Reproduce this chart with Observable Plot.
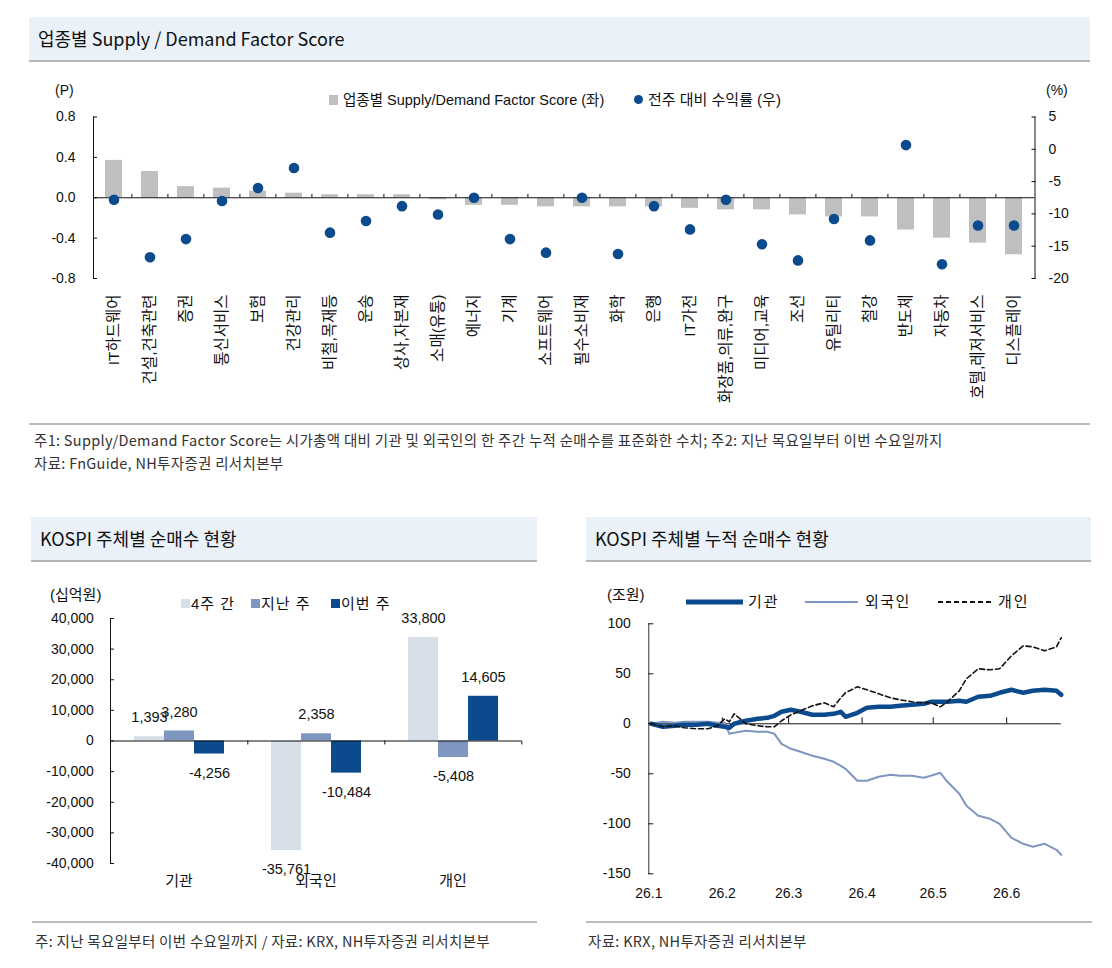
<!DOCTYPE html>
<html><head><meta charset="utf-8">
<script src="https://cdn.jsdelivr.net/npm/d3@7"></script>
<script src="https://cdn.jsdelivr.net/npm/@observablehq/plot@0.6"></script>
<style>
body{margin:0;background:#fff;}
#page{position:relative;width:1112px;height:968px;overflow:hidden;font-family:"Liberation Sans","Noto Sans CJK KR",sans-serif;color:#111;}
.abs{position:absolute;white-space:nowrap;}
.tbar{position:absolute;height:45px;background:#eaf1f8;border-bottom:2px solid #b5b5b5;box-sizing:border-box;font-family:"Noto Sans CJK KR",sans-serif;font-size:18px;line-height:43px;padding-left:9px;color:#111;}
.sep{position:absolute;height:0;border-top:3px solid #bdbdbd;}
.note{position:absolute;font-family:"Noto Sans CJK KR",sans-serif;font-size:14.5px;letter-spacing:0.3px;color:#333;white-space:nowrap;line-height:18px;}
.chart{position:absolute;}
</style></head>
<body><div id="page"></div>
<script>
// ---------- data ----------
const sectors = ["IT하드웨어","건설,건축관련","증권","통신서비스","보험","건강관리","비철,목재등","운송","상사,자본재","소매(유통)","에너지","기계","소프트웨어","필수소비재","화학","은행","IT가전","화장품,의류,완구","미디어,교육","조선","유틸리티","철강","반도체","자동차","호텔,레저서비스","디스플레이"];
const sdScore = [0.37,0.26,0.11,0.095,0.065,0.045,0.03,0.03,0.03,-0.02,-0.075,-0.075,-0.09,-0.09,-0.09,-0.09,-0.105,-0.12,-0.12,-0.17,-0.19,-0.19,-0.32,-0.40,-0.45,-0.565];
const weeklyReturn = [-7.8,-16.7,-13.9,-8.0,-6.0,-2.9,-12.9,-11.1,-8.8,-10.1,-7.5,-13.9,-16.0,-7.5,-16.2,-8.8,-12.4,-7.8,-14.7,-17.2,-10.8,-14.1,0.65,-17.8,-11.8,-11.8];
const scoreTicks = [0.8,0.4,0,-0.4,-0.8];
const returnTicks = [5,0,-5,-10,-15,-20];

const investors = ["기관","외국인","개인"];
const periods = ["4주 간","지난 주","이번 주"];
const net4w = [1393,-35761,33800];
const netLast = [3280,2358,-5408];
const netThis = [-4256,-10484,14605];
const netTicks = [40000,30000,20000,10000,0,-10000,-20000,-30000,-40000];

const cumDates = ["2026-01-02","2026-01-07","2026-01-12","2026-01-16","2026-01-21","2026-01-26","2026-01-30","2026-02-02","2026-02-04","2026-02-06","2026-02-11","2026-02-16","2026-02-20","2026-02-23","2026-02-26","2026-03-02","2026-03-06","2026-03-11","2026-03-16","2026-03-20","2026-03-23","2026-03-25","2026-03-30","2026-04-03","2026-04-08","2026-04-13","2026-04-17","2026-04-22","2026-04-27","2026-04-30","2026-05-04","2026-05-07","2026-05-12","2026-05-15","2026-05-20","2026-05-25","2026-05-29","2026-06-03","2026-06-08","2026-06-12","2026-06-17","2026-06-22","2026-06-24"];
const cumInst = [0,-3,-2,-1,-1,0,-2,-3,-4,0,3,5,6,8,12,14,12,9,9,10,12,7,11,16,17,17,18,19,20,22,22,22,23,22,27,28,31,34,31,33,34,33,29];
const cumForeign = [0,2,1,2,2,2,1,1,-10,-9,-7,-8,-8,-10,-20,-25,-28,-32,-35,-38,-42,-45,-57,-57,-53,-51,-52,-52,-54,-52,-49,-58,-70,-82,-92,-95,-100,-114,-120,-123,-120,-126,-131];
const cumIndiv = [0,-3,-2,-4,-5,-5,-2,5,2,10,0,-2,-3,-3,3,9,13,18,21,17,26,31,37,34,30,26,24,22,21,21,17,22,33,45,55,54,55,68,78,77,73,77,86];
const cumTicks = [100,50,0,-50,-100,-150];
const monthTicks = ["2026-01-01","2026-02-01","2026-03-01","2026-04-01","2026-05-01","2026-06-01"];

// ---------- helpers ----------
const page = document.getElementById("page");
const NAVY = "#0b4a8c", STEEL = "#7f97c0", PALE = "#d6dee8", GREY = "#bfbfbf";
function el(tag, cls, css, html){ const e=document.createElement(tag); if(cls) e.className=cls; Object.assign(e.style, css||{}); if(html!==undefined) e.innerHTML=html; page.appendChild(e); return e; }
function label(text, x, yc, size, extra){ const lh=Math.round(size*1.3); return el("div","abs",Object.assign({left:x+"px",top:(yc-lh/2)+"px",fontSize:size+"px",lineHeight:lh+"px"},extra||{}),text); }
function place(node, x, y){ node.classList.add("chart"); node.style.left=x+"px"; node.style.top=y+"px"; page.appendChild(node); }
const font = '"Liberation Sans","Noto Sans CJK KR",sans-serif';

// ---------- panel 1 ----------
el("div","tbar",{left:"29px",top:"17px",width:"1061px"},"업종별 Supply / Demand Factor Score");
label("(P)",55,90,14);
label("(%)",1046,90,14);
el("div","abs",{left:"329px",top:"95px",width:"9px",height:"10px",background:GREY});
label("업종별 Supply/Demand Factor Score (좌)",343,100,14.5);
el("div","abs",{left:"633.5px",top:"95px",width:"9px",height:"9px",borderRadius:"50%",background:NAVY});
label("전주 대비 수익률 (우)",648,100,15);

const rmap = d3.scaleLinear().domain([-20,5]).range([-0.8,0.8]);
const t1 = sectors.map((s,i)=>({s, v:sdScore[i], r:weeklyReturn[i]}));
const p1 = Plot.plot({
  width:1112, height:340, marginLeft:93, marginRight:77.5, marginTop:46.5, marginBottom:132,
  style:{fontFamily:font, fontSize:"14px", color:"#111", background:"transparent", overflow:"visible"},
  x:{domain:sectors, paddingInner:0.533, paddingOuter:0.2665},
  y:{domain:[-0.8,0.8]},
  marks:[
    Plot.barY(t1,{x:"s", y:"v", fill:GREY}),
    Plot.ruleY([0],{stroke:"#111"}),
    Plot.ruleX(sectors.slice(1),{x:d=>d, y1:0, y2:0.033, dx:-18.1, stroke:"#111"}),
    Plot.dot(t1,{x:"s", y:d=>rmap(d.r), r:5.3, fill:NAVY}),
    Plot.frame({anchor:"left", stroke:"#111"}),
    Plot.frame({anchor:"right", stroke:"#111"}),
    Plot.axisY(scoreTicks,{anchor:"left", tickSize:-4, tickPadding:22, tickFormat:d=>d.toFixed(1), label:null}),
    Plot.axisY(returnTicks.map(rmap),{anchor:"right", tickSize:-4, tickPadding:17.5, tickFormat:d=>String(Math.round(rmap.invert(d))), label:null}),
    Plot.axisX({anchor:"bottom", tickSize:0, tickRotate:-90, tickPadding:16, textAnchor:"end", label:null, fontSize:15.5})
  ]
});
place(p1,0,70);

el("div","sep",{left:"29px",top:"423px",width:"1061px",borderTopWidth:"2px"});
el("div","note",{left:"34px",top:"431px"},"주1: Supply/Demand Factor Score는 시가총액 대비 기관 및 외국인의 한 주간 누적 순매수를 표준화한 수치; 주2: 지난 목요일부터 이번 수요일까지");
el("div","note",{left:"34px",top:"454px"},"자료: FnGuide, NH투자증권 리서치본부");

// ---------- panel 2 ----------
el("div","tbar",{left:"31px",top:"517px",width:"506px"},"KOSPI 주체별 순매수 현황");
label("(십억원)",50,595,15);
const leg2 = [[periods[0],PALE,181],[periods[1],STEEL,251],[periods[2],NAVY,331]];
leg2.forEach(([t,c,x])=>{
  el("div","abs",{left:x+"px",top:"599px",width:"9px",height:"9px",background:c});
  label(t,x+10,604,15,{letterSpacing:"1px"});
});
const t2 = [];
investors.forEach((g,i)=>{ t2.push({g,p:periods[0],v:net4w[i]},{g,p:periods[1],v:netLast[i]},{g,p:periods[2],v:netThis[i]}); });
const fmt = d=>d.toLocaleString("en-US");
const p2 = Plot.plot({
  width:540, height:330, marginLeft:109, marginRight:18, marginTop:48, marginBottom:37,
  style:{fontFamily:font, fontSize:"14px", color:"#111", background:"transparent", overflow:"visible"},
  fx:{domain:investors, padding:0, label:null},
  x:{domain:periods, padding:0, insetLeft:23, insetRight:23, axis:null},
  y:{domain:[-40000,40000]},
  color:{domain:periods, range:[PALE,STEEL,NAVY]},
  marks:[
    Plot.barY(t2,{fx:"g", x:"p", y:"v", fill:"p"}),
    Plot.ruleY([0],{stroke:"#111"}),
    Plot.ruleX(investors.map(g=>({g,p:periods[2]})),{fx:"g", x:"p", y1:0, y2:-1300, dx:38.3, stroke:"#111"}),
    Plot.text(t2.filter(d=>d.v>=0),{fx:"g", x:"p", y:"v", text:d=>fmt(d.v), dy:-19, fontSize:14.5}),
    Plot.text(t2.filter(d=>d.v<0),{fx:"g", x:"p", y:"v", text:d=>fmt(d.v), dy:19, fontSize:14.5}),
    Plot.frame({anchor:"left", facetAnchor:"left", stroke:"#111"}),
    Plot.axisY(netTicks,{anchor:"left", tickSize:-4, tickPadding:20.7, tickFormat:fmt, label:null}),
    Plot.axisFx({anchor:"bottom", tickSize:0, tickPadding:12, label:null, fontSize:15})
  ]
});
place(p2,0,570);
el("div","sep",{left:"32px",top:"921px",width:"505px",borderTopWidth:"2px"});
el("div","note",{left:"35px",top:"932px"},"주: 지난 목요일부터 이번 수요일까지 / 자료: KRX, NH투자증권 리서치본부");

// ---------- panel 3 ----------
el("div","tbar",{left:"586px",top:"517px",width:"505px"},"KOSPI 주체별 누적 순매수 현황");
label("(조원)",607,595,15);
function legLine(x1,x2,y,stroke,w,dash){
  const s = `<svg width="${x2-x1}" height="10"><line x1="0" y1="5" x2="${x2-x1}" y2="5" stroke="${stroke}" stroke-width="${w}" ${dash?`stroke-dasharray="${dash}"`:""}/></svg>`;
  el("div","abs",{left:x1+"px",top:(y-5)+"px",width:(x2-x1)+"px",height:"10px",lineHeight:"0"},s);
}
legLine(686,743,601.5,NAVY,5,null); label("기관",748,601.5,15,{letterSpacing:"2px"});
legLine(805,858,601.5,STEEL,2,null); label("외국인",865,601.5,15,{letterSpacing:"1.5px"});
legLine(938,993,601.5,"#111",2,"5,3"); label("개인",998,601.5,15,{letterSpacing:"2px"});

const parse = d3.utcParse("%Y-%m-%d");
const t3 = [];
cumDates.forEach((d,i)=>{ const dt=parse(d); t3.push({d:dt,s:"기관",v:cumInst[i]},{d:dt,s:"외국인",v:cumForeign[i]},{d:dt,s:"개인",v:cumIndiv[i]}); });
const mt = monthTicks.map(parse);
const p3 = Plot.plot({
  width:530, height:340, marginLeft:88.3, marginRight:29.3, marginTop:53.3, marginBottom:36.7,
  style:{fontFamily:font, fontSize:"14px", color:"#111", background:"transparent", overflow:"visible"},
  x:{type:"utc", domain:[parse("2026-01-01"), parse("2026-06-24")]},
  y:{domain:[-150,100]},
  marks:[
    Plot.ruleY([0],{stroke:"#111"}),
    Plot.ruleX(mt.slice(1),{x:d=>d, y1:0, y2:6, stroke:"#111"}),
    Plot.line(t3.filter(d=>d.s==="외국인"),{x:"d", y:"v", stroke:STEEL, strokeWidth:2}),
    Plot.line(t3.filter(d=>d.s==="기관"),{x:"d", y:"v", stroke:NAVY, strokeWidth:4.5}),
    Plot.line(t3.filter(d=>d.s==="개인"),{x:"d", y:"v", stroke:"#111", strokeWidth:1.6, strokeDasharray:"5,3"}),
    Plot.frame({anchor:"left", stroke:"#333"}),
    Plot.axisY(cumTicks,{anchor:"left", tickSize:-5, tickPadding:23, tickFormat:String, label:null}),
    Plot.axisX(mt,{anchor:"bottom", tickSize:0, tickPadding:14, tickFormat:d=>`${String(d.getUTCFullYear()).slice(2)}.${d.getUTCMonth()+1}`, label:null})
  ]
});
place(p3,560,570);
el("div","sep",{left:"586px",top:"921px",width:"506px",borderTopWidth:"2px"});
el("div","note",{left:"588px",top:"932px"},"자료: KRX, NH투자증권 리서치본부");
</script>
</body></html>
